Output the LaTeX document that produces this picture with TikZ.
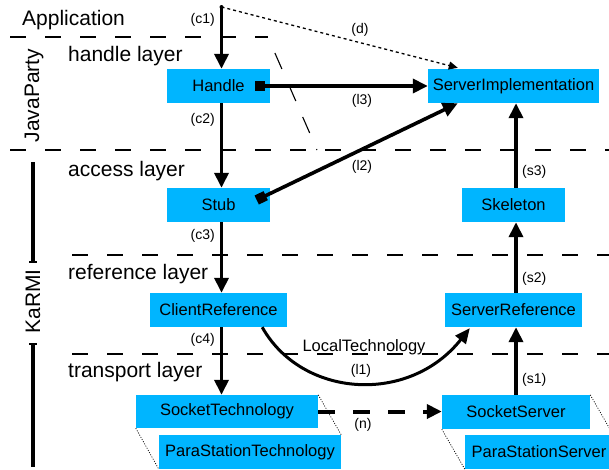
\documentclass[tikz,border=0pt]{standalone}
\usepackage{fontspec}
\setmainfont{Liberation Sans}
\usetikzlibrary{arrows.meta,calc}
\definecolor{boxcyan}{RGB}{0,181,255}
\begin{document}
\begin{tikzpicture}[x=1pt,y=-1pt,
  box/.style={fill=boxcyan, inner sep=0pt, minimum height=34pt, font=\fontsize{16.5}{18}\selectfont},
  layer/.style={font=\fontsize{21}{24}\selectfont, anchor=base west, inner sep=0pt},
  side/.style={font=\fontsize{21}{24}\selectfont, rotate=90, inner sep=0pt},
  lbl/.style={font=\fontsize{14}{16}\selectfont, inner sep=0pt},
  sep/.style={line width=1.1pt, dash pattern=on 16pt off 19pt},
  conn/.style={line width=3.6pt, -{Triangle[length=15pt,width=14pt]}},
  link/.style={line width=3.6pt, {Square[length=10pt,width=10pt]}-{Triangle[length=15pt,width=14pt]}},
  ghost/.style={line width=0.7pt, dash pattern=on 1pt off 1.5pt},
  dep/.style={line width=1.3pt, dash pattern=on 3pt off 3pt, -{Triangle[length=9pt,width=8pt]}},
  netw/.style={line width=4pt, dash pattern=on 17pt off 18pt, -{Triangle[length=15pt,width=14pt]}},
]
\useasboundingbox (0,0) rectangle (609,469);

% layer separators
\draw[sep] (10,37) -- (268,37);
\draw[line width=1.1pt] (274.9,53) -- (281.9,69) (289.7,87) -- (295.8,101) (302.7,117) -- (309.7,133) (316.5,149) -- (317,150);
\draw[sep] (10,150) -- (609,150);
\draw[sep] (72,255) -- (609,255);
\draw[sep] (72,354) -- (609,354);

% layer labels
\node[layer] (lApp) at (22,25.5) {Application};
\node[layer] (lHandle) at (68,61.5) {handle layer};
\node[layer] (lAccess) at (68,176) {access layer};
\node[layer] (lRef) at (68,279) {reference layer};
\node[layer] (lTrans) at (68,377.5) {transport layer};

% side labels
\node[side] (jp) at (34,95.5) {JavaParty};
\node[side] (karmi) at (33,301.5) {KaRMI};
\draw[line width=4pt] (33,162) -- (33,262);
\draw[line width=1.5pt] (29,262) -- (37,262);
\draw[line width=4pt] (33,344) -- (33,467);
\draw[line width=1.5pt] (29,344) -- (37,344);

% boxes
\node[box, minimum width=103pt] (Handle) at (218.5,86) {Handle};
\node[box, minimum width=103pt] (Stub) at (218.5,205) {Stub};
\node[box, minimum width=137pt] (CR) at (218.5,310) {ClientReference};
\node[box, minimum width=182pt, minimum height=33pt] (ST) at (227,411.5) {SocketTechnology};
\node[box, minimum width=182pt] (PT) at (250,452) {ParaStationTechnology};
\node[box, minimum width=171pt] (SI) at (513.5,86) {ServerImplementation};
\node[box, minimum width=103pt] (Sk) at (513.5,205) {Skeleton};
\node[box, minimum width=137pt] (SR) at (513.5,310) {ServerReference};
\node[box, minimum width=148pt] (SS) at (516,412) {SocketServer};
\node[box, minimum width=148pt] (PS) at (539,452) {ParaStationServer};

\draw[ghost] (ST.north east) -- (PT.north east);
\draw[ghost] (ST.south west) -- (PT.south west);
\draw[ghost] (SS.north east) -- (PS.north east);
\draw[ghost] (SS.south west) -- (PS.south west);

% client side chain
\coordinate (top) at (221.5,7);
\coordinate (sx) at (516,0);
\fill (top) circle (2pt);
\draw[conn] (top) -- (top |- Handle.north);
\draw[conn] (Handle.south -| top) -- (Stub.north -| top);
\draw[conn] (Stub.south -| top) -- (CR.north -| top);
\draw[conn] (CR.south -| top) -- (ST.north -| top);

% server side chain
\draw[conn] (SS.north -| sx) -- (SR.south -| sx);
\draw[conn] (SR.north -| sx) -- (Sk.south -| sx);
\draw[conn] (Sk.north -| sx) -- (SI.south -| sx);

% links
\draw[dep] (top) -- ($(SI.north west)+(30,-1)$);
\draw[link] ($(Handle.east)+(-15,0)$) -- (SI.west);
\draw[link] ($(Stub.east)+(-13.5,-5)$) -- ($(SI.south west)+(30,0)$);
\draw[line width=3pt, -{Triangle[length=15pt,width=13pt]}] ($(CR.south east)+(-25,0)$) .. controls (302,398) and (409,405) .. ($(SR.south west)+(25,1)$);
\draw[netw] (ST.east) -- (ST.east -| SS.west);

% labels
\node[lbl, anchor=east] (c1) at (215,20) {(c1)};
\node[lbl, anchor=east] (c2) at (215,120) {(c2)};
\node[lbl, anchor=east] (c3) at (215,236) {(c3)};
\node[lbl, anchor=east] (c4) at (215,340) {(c4)};
\node[lbl, anchor=west] (s3) at (522,172) {(s3)};
\node[lbl, anchor=west] (s2) at (522,279) {(s2)};
\node[lbl, anchor=west] (s1) at (522,380) {(s1)};
\node[lbl] (d) at (360,30) {(d)};
\node[lbl] (l3) at (362,101) {(l3)};
\node[lbl] (l2) at (362,167) {(l2)};
\node[font=\fontsize{16.5}{18}\selectfont, inner sep=0pt] (lt) at (364,347) {LocalTechnology};
\node[lbl] (l1) at (361,371) {(l1)};
\node[lbl] (n) at (363,425) {(n)};
\end{tikzpicture}
\end{document}
